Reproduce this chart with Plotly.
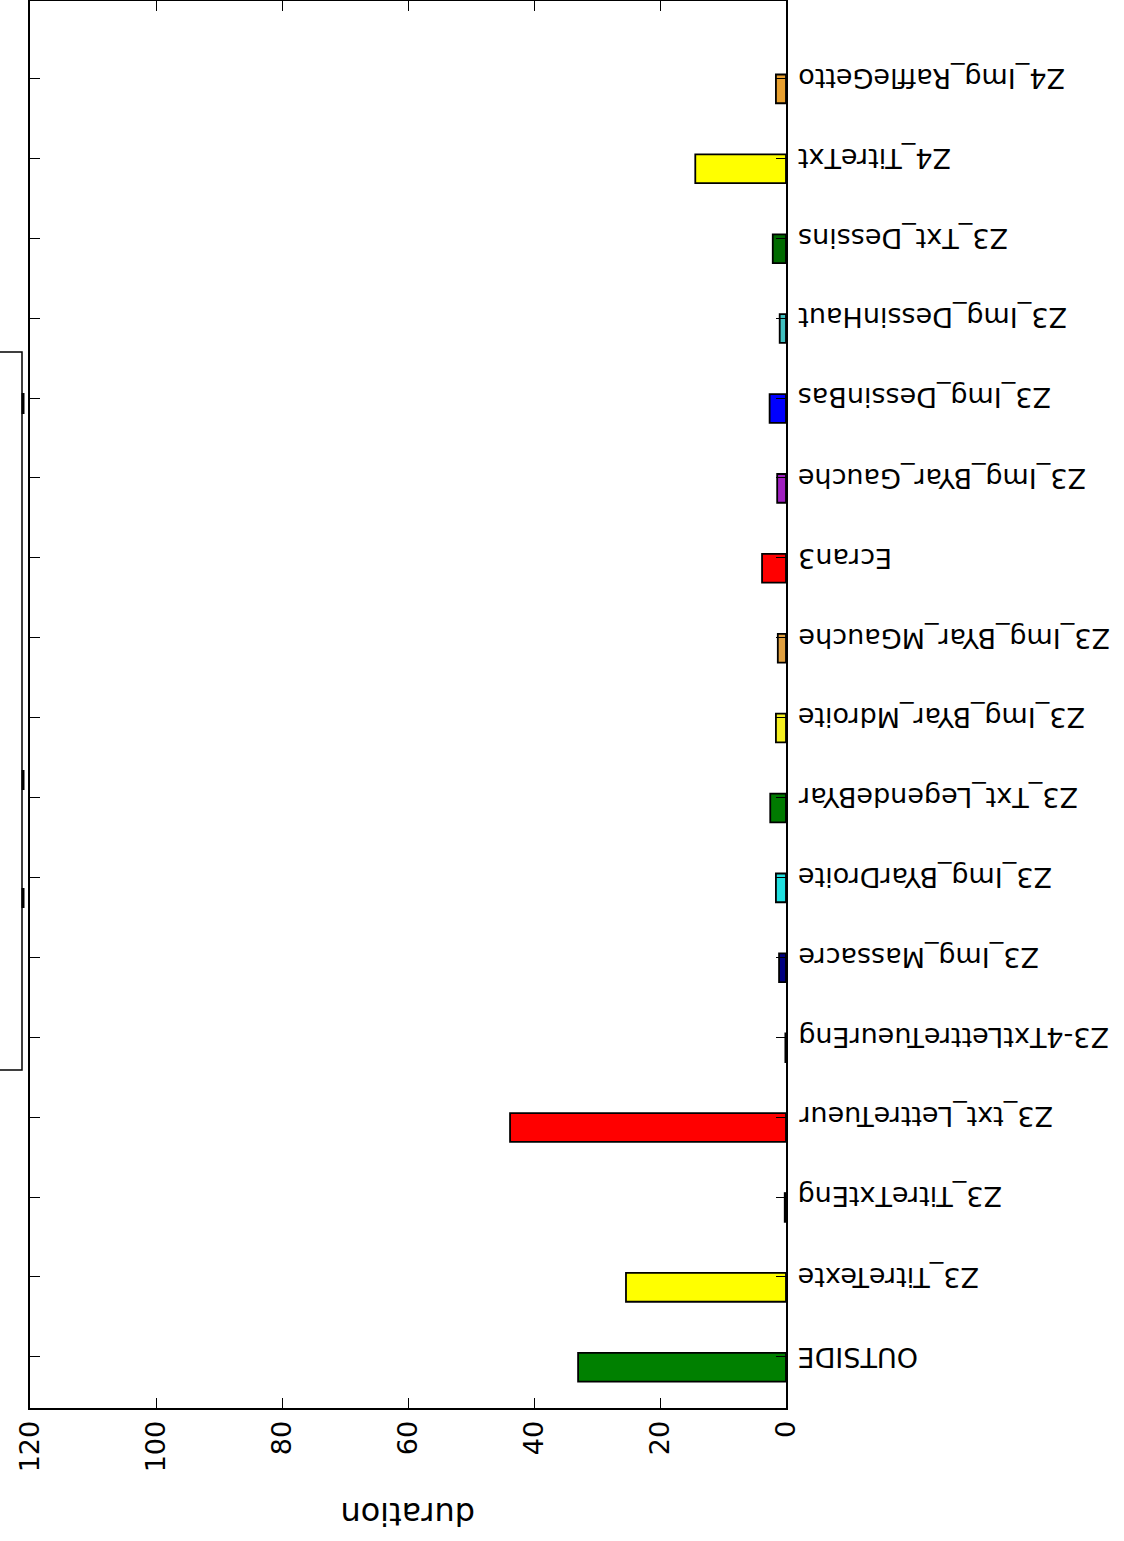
import plotly.graph_objects as go

categories = [
    "OUTSIDE", "Z3_TitreTexte", "Z3_TitreTxtEng", "Z3_txt_LettreTueur",
    "Z3-4TxtLettreTueurEng", "Z3_Img_Massacre", "Z3_Img_BYarDroite",
    "Z3_Txt_LegendeBYar", "Z3_Img_BYar_Mdroite", "Z3_Img_BYar_MGauche",
    "Ecran3", "Z3_Img_BYar_Gauche", "Z3_Img_DessinBas", "Z3_Img_DessinHaut",
    "Z3_Txt_Dessins", "Z4_TitreTxt", "Z4_Img_RaffleGetto",
]
durations = [33.0, 25.4, 0.2, 43.8, 0.1, 1.1, 1.6, 2.5, 1.6, 1.3,
             3.8, 1.4, 2.6, 1.0, 2.1, 14.4, 1.6]
colors = ["#008000", "#ffff00", "#000000", "#ff0000", "#000000", "#000080",
          "#20e0e0", "#007a00", "#f5f020", "#e0a040", "#ff0000", "#a020c0",
          "#0000ff", "#40c0c0", "#006a00", "#ffff00", "#e8a030"]
x_ticks = [0, 20, 40, 60, 80, 100, 120]
positions = list(range(len(categories)))

W, H = 1124, 1541
L, R, T, B = 30, 338, 1, 133

fig = go.Figure()
fig.add_trace(go.Bar(
    x=durations, y=positions, orientation="h",
    marker=dict(color=colors, line=dict(color="black", width=1.8)),
    width=0.36, offset=-0.31, showlegend=False,
))

font = dict(family="DejaVu Sans", size=27, color="black")

fig.update_layout(
    width=W, height=H,
    margin=dict(l=L, r=R, t=T, b=B, autoexpand=False),
    paper_bgcolor="white", plot_bgcolor="white",
    xaxis=dict(
        range=[120, 0], tickvals=x_ticks, ticktext=[str(v) for v in x_ticks],
        tickangle=-90, tickfont=font, ticks="inside", ticklen=10,
        tickwidth=1.3, tickcolor="black", showline=True, linecolor="black",
        linewidth=2, mirror="ticks", showgrid=False, zeroline=False,
    ),
    yaxis=dict(
        range=[-0.64, 16.97], tickvals=positions, showticklabels=False,
        side="right", ticks="inside",
        ticklen=10, tickwidth=1.3, tickcolor="black", showline=True,
        linecolor="black", linewidth=2, mirror="ticks", showgrid=False,
        zeroline=False,
    ),
)

pw = W - L - R
ph = H - T - B

def px(xp):
    return (xp - L) / pw

def py(yp):
    return (H - B - yp) / ph

# upside-down category labels
for pos, name in zip(positions, categories):
    fig.add_annotation(
        text=name, textangle=180, showarrow=False,
        xref="paper", yref="y", x=px(796), y=pos,
        xanchor="left", yanchor="middle", font=font,
    )

fig.add_annotation(
    text="duration", textangle=180, showarrow=False,
    xref="paper", yref="paper", x=px(408), y=py(1514),
    xanchor="center", yanchor="middle",
    font=dict(family="DejaVu Sans", size=32, color="black"),
)

# partially visible legend frame
fig.add_shape(type="rect", xref="paper", yref="paper",
              x0=px(-3), x1=px(22), y0=py(1070), y1=py(352),
              line=dict(color="black", width=1.5), fillcolor="rgba(0,0,0,0)")
for y0, y1 in [(393, 414), (770, 790), (888, 908)]:
    fig.add_shape(type="line", xref="paper", yref="paper",
                  x0=px(23), x1=px(23), y0=py(y1), y1=py(y0),
                  line=dict(color="black", width=3))

fig.write_html("out.html", config={"displayModeBar": False},
               post_script="document.body.style.margin='0';")
